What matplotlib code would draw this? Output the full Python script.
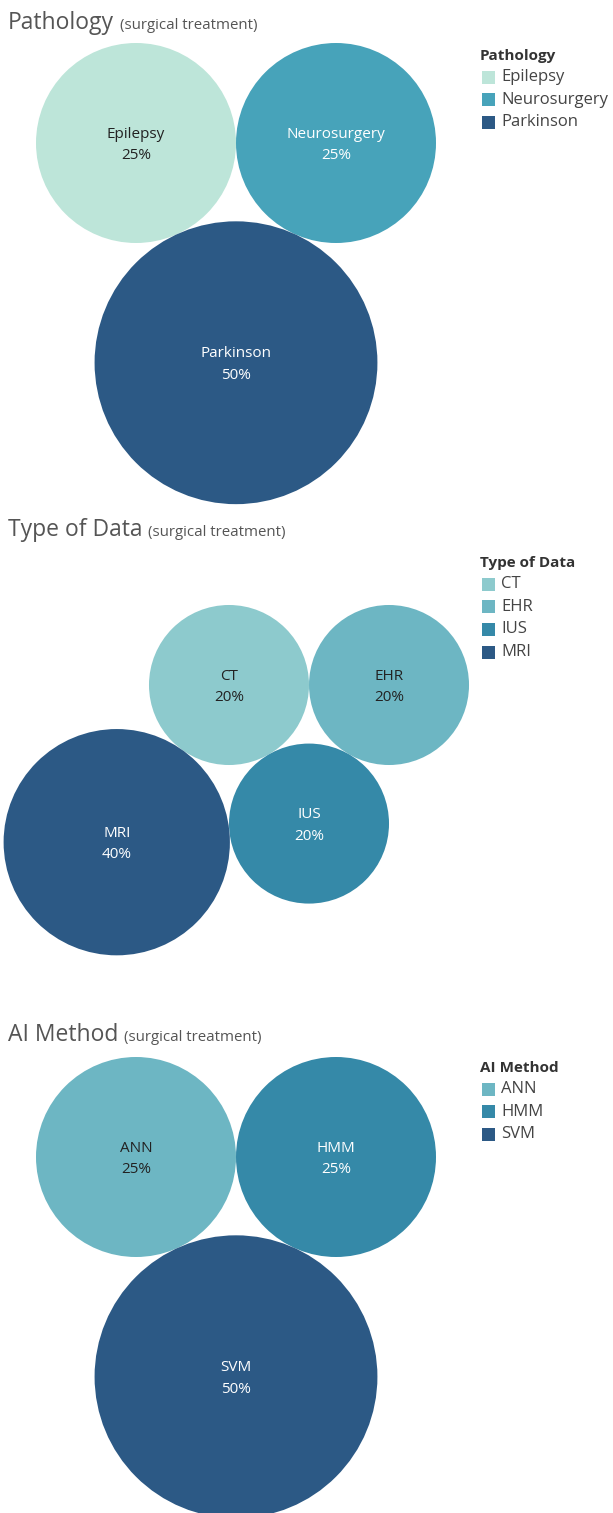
import numpy as np
import matplotlib.pyplot as plt
from matplotlib.patches import Circle, Rectangle

plt.rcParams['font.family'] = ['Open Sans', 'DejaVu Sans']

# data
path_labels = ['Epilepsy', 'Neurosurgery', 'Parkinson']
path_values = [25, 25, 50]
path_colors = ['#bde5d9', '#47a3ba', '#2c5985']

type_labels = ['CT', 'EHR', 'IUS', 'MRI']
type_values = [20, 20, 20, 40]
type_colors = ['#8dcacd', '#6db6c3', '#3589a8', '#2c5985']

ai_labels = ['ANN', 'HMM', 'SVM']
ai_values = [25, 25, 50]
ai_colors = ['#6db6c3', '#3589a8', '#2c5985']


def tangent(c1, r1, c2, r2, r, side):
    # centre of a circle of radius r touching circles 1 and 2
    c1 = np.array(c1); c2 = np.array(c2)
    a = r1 + r
    b = r2 + r
    d = np.linalg.norm(c2 - c1)
    x = (a**2 - b**2 + d**2) / (2*d)
    h = np.sqrt(max(a**2 - x**2, 0))
    u = (c2 - c1) / d
    n = np.array([-u[1], u[0]])
    return c1 + u*x + side*n*h


def pack(values, k, start, order):
    radii = [k*np.sqrt(v) for v in values]
    centres = [None]*len(values)
    centres[0] = np.array(start, dtype=float)
    centres[1] = centres[0] + np.array([radii[0] + radii[1], 0])
    for idx, (i, j, side) in order:
        centres[idx] = tangent(centres[i], radii[i], centres[j], radii[j], radii[idx], side)
    return centres, radii


def is_dark(col):
    c = col.lstrip('#')
    rgb = [int(c[i:i+2], 16) for i in (0, 2, 4)]
    return (0.299*rgb[0] + 0.587*rgb[1] + 0.114*rgb[2]) < 150


fig = plt.figure(figsize=(6.13, 15.13), dpi=100)
ax = fig.add_axes([0, 0, 1, 1])
ax.set_xlim(0, 613)
ax.set_ylim(1513, 0)
ax.axis('off')
renderer = fig.canvas.get_renderer()


def title(y, main):
    t = ax.text(8, y, main, fontsize=16.5, color='#555555', va='baseline', ha='left')
    bb = t.get_window_extent(renderer)
    xd = ax.transData.inverted().transform((bb.x1 + 6, 0))[0]
    ax.text(xd, y, '(surgical treatment)', fontsize=10.8, color='#555555', va='baseline', ha='left')


def legend(y, name, labels, colors):
    ax.text(480, y, name, fontsize=11, fontweight='bold', color='#333333', va='center', ha='left')
    for i, (lab, col) in enumerate(zip(labels, colors)):
        yy = y + 21 + i*22.7
        ax.add_patch(Rectangle((482, yy - 6.5), 13, 13, color=col, lw=0))
        ax.text(501, yy, lab, fontsize=12, color='#444444', va='center', ha='left')


def bubbles(labels, values, colors, k, start, order):
    centres, radii = pack(values, k, start, order)
    total = sum(values)
    for lab, v, col, c, r in zip(labels, values, colors, centres, radii):
        ax.add_patch(Circle(c, r, color=col, lw=0))
        tc = 'white' if is_dark(col) else '#222222'
        ax.text(c[0], c[1] + 2, f'{lab}\n{v/total*100:.0f}%', fontsize=11, color=tc,
                ha='center', va='center', linespacing=1.6)


# Pathology
title(29, 'Pathology')
legend(56, 'Pathology', path_labels, path_colors)
bubbles(path_labels, path_values, path_colors, 20, (136, 143), [(2, (0, 1, 1))])

# Type of data
title(536, 'Type of Data')
legend(563, 'Type of Data', type_labels, type_colors)
bubbles(type_labels, type_values, type_colors, 17.89, (229, 685),
        [(2, (0, 1, 1)), (3, (0, 2, 1))])

# AI method
title(1041, 'AI Method')
legend(1068, 'AI Method', ai_labels, ai_colors)
bubbles(ai_labels, ai_values, ai_colors, 20, (136, 1157), [(2, (0, 1, 1))])

fig.savefig('out.png', dpi=100)
